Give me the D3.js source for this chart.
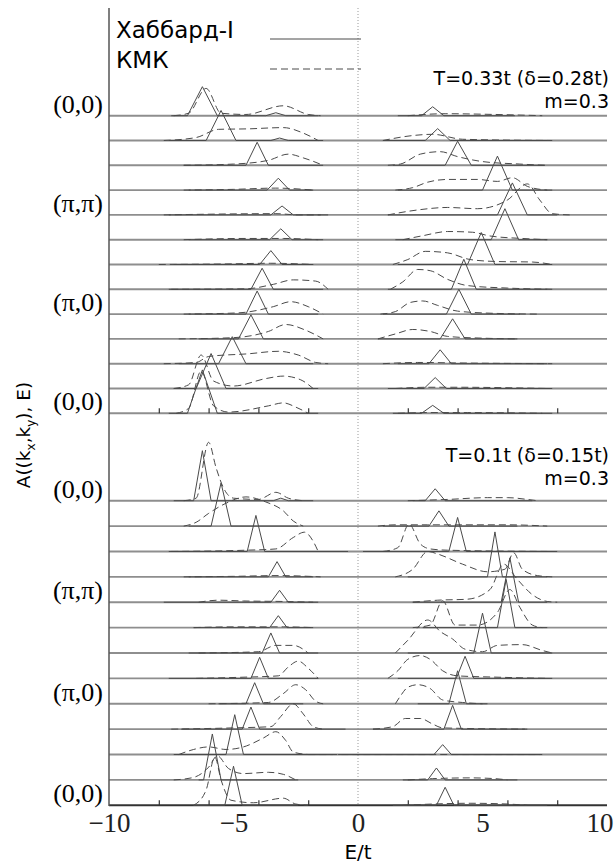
<!DOCTYPE html>
<html>
<head>
<meta charset="utf-8">
<script src="https://cdn.jsdelivr.net/npm/d3@7"></script>
<style>
  body { margin: 0; background: #fff; }
</style>
</head>
<body>
<div id="chart"></div>
<script>
// ---- data ----
const xTicksMajor = [-10, -5, 0, 5, 10]
const xTicksMinor = [-8, -6, -4, -2, 2, 4, 6, 8]
const kLabels = ["(0,0)", "(π,π)", "(π,0)", "(0,0)"]
const kLabelRows = [0, 4, 8, 12]
const legendNames = ["Хаббард-I", "КМК"]
const titleUpper = ["T=0.33t (δ=0.28t)", "m=0.3"]
const titleLower = ["T=0.1t (δ=0.15t)", "m=0.3"]

// each row: [lower band points, upper band points], points are [E/t, A] (A in row spacings)
const hubUpper = [
  [[[-7.5,0],[-6.85,0],[-6.25,1.17],[-5.65,0],[-3.7,0],[-3.3,0.12],[-2.9,0],[-1.6,0]], [[1.6,0],[2.55,0],[3.0,0.36],[3.45,0],[6.3,0]]],
  [[[-7.6,0],[-6.1,0],[-5.5,1.21],[-4.9,0],[-3.5,0],[-3.15,0.1],[-2.8,0],[-1.4,0]], [[1.0,0],[2.7,0],[3.2,0.48],[3.7,0],[7.6,0]]],
  [[[-7.0,0],[-4.5,0],[-4.05,0.93],[-3.6,0],[-1.4,0]], [[1.4,0],[3.5,0],[4.0,0.97],[4.55,0],[7.5,0]]],
  [[[-6.8,0],[-3.65,0],[-3.2,0.48],[-2.75,0],[-1.8,0]], [[1.6,0],[5.0,0],[5.6,1.37],[6.2,0],[7.8,0]]],
  [[[-7.6,0],[-3.5,0],[-3.05,0.36],[-2.6,0],[-1.2,0]], [[1.2,0],[5.6,0],[6.2,1.29],[6.8,0],[8.0,0]]],
  [[[-6.8,0],[-3.55,0],[-3.1,0.44],[-2.65,0],[-1.4,0]], [[1.5,0],[5.35,0],[5.9,1.25],[6.45,0],[7.6,0]]],
  [[[-7.4,0],[-3.95,0],[-3.5,0.56],[-3.05,0],[-1.8,0]], [[1.6,0],[4.4,0],[4.95,1.29],[5.5,0],[7.8,0]]],
  [[[-7.6,0],[-4.3,0],[-3.85,0.85],[-3.4,0],[-1.4,0]], [[1.2,0],[3.75,0],[4.25,1.21],[4.75,0],[7.6,0]]],
  [[[-6.8,0],[-4.5,0],[-4.05,0.93],[-3.6,0],[-1.6,0]], [[1.0,0],[3.55,0],[4.05,1.0],[4.55,0],[6.5,0]]],
  [[[-6.4,0],[-4.8,0],[-4.3,0.97],[-3.8,0],[-1.6,0]], [[0.8,0],[3.3,0],[3.8,0.81],[4.3,0],[6.4,0]]],
  [[[-7.2,0],[-5.6,0],[-5.05,1.09],[-4.5,0],[-1.8,0]], [[1.6,0],[2.85,0],[3.3,0.56],[3.75,0],[7.6,0]]],
  [[[-7.4,0],[-6.5,0],[-5.9,1.41],[-5.3,0],[-1.6,0]], [[1.2,0],[2.65,0],[3.1,0.44],[3.55,0],[7.8,0]]],
  [[[-7.6,0],[-6.85,0],[-6.25,1.75],[-5.65,0],[-1.6,0]], [[1.4,0],[2.55,0],[3.0,0.32],[3.45,0],[7.8,0]]]
]

const kmkUpper = [
  [[[-7.4,0],[-6.8,0.1],[-6.1,1.1],[-5.5,0.1],[-4.5,0.05],[-3.0,0.4],[-2.0,0.05],[-1.5,0]], [[2.0,0],[3.5,0.08],[5.5,0.05],[7.4,0]]],
  [[[-7.8,0],[-6.5,0.12],[-5.6,0.45],[-4.4,0.47],[-3.0,0.52],[-2.2,0.3],[-1.6,0]], [[1.0,0],[2.2,0.2],[3.0,0.25],[4.2,0.05],[7.8,0]]],
  [[[-7.0,0],[-5.0,0.05],[-3.6,0.2],[-2.8,0.45],[-2.2,0.3],[-1.4,0]], [[1.2,0],[1.7,0.05],[2.5,0.45],[3.3,0.55],[4.0,0.35],[5.0,0.15],[6.5,0.05],[7.5,0]]],
  [[[-7.0,0],[-5.0,0.03],[-3.3,0.08],[-1.8,0]], [[1.5,0],[2.2,0.1],[2.8,0.32],[3.6,0.43],[4.8,0.43],[5.6,0.35],[6.2,0.5],[6.8,0.15],[7.6,0]]],
  [[[-7.8,0],[-3.3,0.05],[-2.4,0],[-1.5,0]], [[1.2,0],[2.4,0.2],[3.6,0.3],[4.8,0.25],[6.0,0.6],[6.8,1.25],[7.3,0.6],[7.8,0.05],[8.5,0]]],
  [[[-7.0,0],[-4.5,0.05],[-3.0,0.05],[-1.6,0]], [[1.8,0],[2.6,0.16],[3.6,0.33],[4.6,0.3],[5.3,0.15],[6.6,0.05],[7.6,0]]],
  [[[-8.0,0],[-5.5,0.02],[-3.5,0.05],[-1.8,0]], [[1.4,0],[2.0,0.2],[2.7,0.53],[3.6,0.47],[4.5,0.2],[5.6,0.12],[7.0,0.1],[7.8,0]]],
  [[[-7.5,0],[-4.5,0.02],[-3.4,0.2],[-2.6,0.38],[-1.7,0.33],[-1.2,0]], [[1.3,0],[1.8,0.3],[2.4,0.8],[2.9,0.75],[3.6,0.4],[4.4,0.15],[6.0,0.05],[7.8,0]]],
  [[[-7.0,0],[-4.8,0.05],[-3.4,0.3],[-2.7,0.5],[-2.0,0.3],[-1.4,0]], [[0.9,0],[1.5,0.1],[2.1,0.47],[2.6,0.53],[3.2,0.35],[4.0,0.12],[5.5,0.03],[7.2,0]]],
  [[[-7.2,0],[-5.0,0.05],[-3.6,0.3],[-2.9,0.58],[-2.1,0.35],[-1.4,0]], [[0.8,0],[1.5,0.2],[2.2,0.38],[2.9,0.3],[3.6,0.1],[5.0,0.03],[6.4,0]]],
  [[[-7.8,0],[-6.5,0.05],[-6.0,0.29],[-4.4,0.4],[-3.2,0.5],[-2.4,0.35],[-1.7,0.05],[-1.2,0]], [[1.0,0],[2.4,0.05],[4.0,0.03],[7.8,0]]],
  [[[-7.4,0],[-6.8,0.15],[-6.3,1.35],[-5.8,0.3],[-5.0,0.1],[-3.7,0.4],[-3.0,0.5],[-2.3,0.35],[-1.8,0]], [[1.5,0],[2.8,0.05],[4.0,0.05],[7.6,0]]],
  [[[-7.3,0],[-6.8,0.2],[-6.3,1.7],[-5.8,0.3],[-5.2,0.05],[-3.6,0.3],[-3.0,0.42],[-2.5,0.25],[-2.0,0]], [[1.6,0],[2.8,0.03],[4.4,0.03],[7.4,0]]]
]

const hubLower = [
  [[[-7.4,0],[-6.6,0],[-6.25,1.97],[-5.9,0],[-3.4,0],[-3.1,0.1],[-2.8,0],[-1.8,0]], [[2.2,0],[2.7,0],[3.1,0.47],[3.5,0],[7.0,0]]],
  [[[-6.8,0],[-5.9,0],[-5.5,1.7],[-5.1,0],[-2.4,0]], [[1.0,0],[2.85,0],[3.25,0.6],[3.65,0],[6.4,0]]],
  [[[-7.6,0],[-4.45,0],[-4.1,1.42],[-3.75,0],[-0.4,0]], [[0.2,0],[3.65,0],[4.0,1.34],[4.35,0],[8.0,0]]],
  [[[-6.8,0],[-3.6,0],[-3.25,0.6],[-2.9,0],[-1.8,0]], [[2.0,0],[5.2,0],[5.5,1.77],[5.8,0],[7.6,0]]],
  [[[-7.8,0],[-3.5,0],[-3.15,0.47],[-2.8,0],[-1.6,0]], [[2.2,0],[5.75,0],[6.1,1.75],[6.45,0],[7.6,0]]],
  [[[-6.6,0],[-3.55,0],[-3.2,0.47],[-2.85,0],[-1.8,0]], [[2.6,0],[5.6,0],[5.95,1.9],[6.3,0],[7.6,0]]],
  [[[-6.8,0],[-3.85,0],[-3.5,0.79],[-3.15,0],[-1.6,0]], [[2.0,0],[4.65,0],[5.0,1.57],[5.35,0],[7.8,0]]],
  [[[-7.6,0],[-4.3,0],[-3.95,0.83],[-3.6,0],[-1.6,0]], [[1.6,0],[3.95,0],[4.3,0.87],[4.65,0],[7.8,0]]],
  [[[-5.6,0],[-4.5,0],[-4.15,0.83],[-3.8,0],[-2.2,0]], [[2.4,0],[3.65,0],[4.0,1.3],[4.35,0],[5.2,0]]],
  [[[-7.1,0],[-4.65,0],[-4.3,0.87],[-3.95,0],[-0.5,0]], [[0.6,0],[3.45,0],[3.8,0.94],[4.15,0],[6.7,0]]],
  [[[-7.4,0],[-5.3,0],[-4.95,1.57],[-4.6,0],[-1.0,0]], [[-0.8,0],[3.05,0],[3.4,0.39],[3.75,0],[7.4,0]]],
  [[[-6.4,0],[-6.2,0],[-5.85,1.81],[-5.5,0],[-2.4,0]], [[1.8,0],[2.8,0],[3.15,0.47],[3.5,0],[6.4,0]]],
  [[[-6.6,0],[-5.35,0],[-5.0,1.54],[-4.65,0],[-2.4,0]], [[1.4,0],[3.15,0],[3.5,0.71],[3.85,0],[7.6,0]]]
]

const kmkLower = [
  [[[-7.0,0],[-6.5,0.1],[-6.0,2.3],[-5.7,1.3],[-5.4,0.5],[-5.0,0.1],[-4.0,0.05],[-3.3,0.33],[-2.8,0.1],[-2.2,0]], [[2.0,0],[3.6,0.05],[5.2,0.12],[6.0,0.12],[6.8,0.05],[7.2,0]]],
  [[[-7.0,0],[-6.5,0.15],[-6.0,0.5],[-5.3,0.9],[-4.5,1.15],[-3.7,0.95],[-3.0,0.6],[-2.6,0.2],[-2.2,0]], [[0.8,0],[1.5,0.05],[2.8,0.05],[6.0,0.05],[7.6,0]]],
  [[[-7.5,0],[-4.5,0.05],[-3.3,0.1],[-2.6,0.55],[-2.15,0.76],[-1.8,0.4],[-1.6,0]], [[1.0,0],[1.6,0.15],[2.05,1.08],[2.5,0.3],[2.9,0.1],[3.6,0.05],[7.6,0]]],
  [[[-7.0,0],[-5.0,0.02],[-3.2,0.05],[-1.5,0]], [[1.5,0],[2.2,0.3],[2.8,1.0],[3.2,0.9],[4.2,0.5],[5.2,0.2],[5.9,0.3],[6.25,0.95],[6.6,0.3],[7.2,0.05],[7.8,0]]],
  [[[-6.4,0],[-5.6,0.08],[-4.6,0.05],[-3.0,0.03],[-1.8,0]], [[2.2,0],[3.2,0.08],[4.4,0.12],[5.3,0.5],[5.85,1.5],[6.4,0.9],[7.0,0.3],[7.6,0.03],[8.0,0]]],
  [[[-6.6,0],[-5.0,0.03],[-3.0,0.03],[-1.8,0]], [[2.2,0],[2.9,0.1],[3.4,1.06],[3.9,0.1],[4.8,0.1],[5.6,0.6],[6.1,1.5],[6.5,0.8],[7.0,0.1],[7.4,0]]],
  [[[-6.4,0],[-4.0,0.05],[-3.3,0.3],[-2.6,0.3],[-2.0,0]], [[1.5,0],[2.0,0.5],[2.8,1.3],[3.3,0.85],[3.8,0.55],[4.3,0.15],[5.0,0.05],[5.6,0.3],[6.6,0.33],[7.4,0.1],[7.8,0]]],
  [[[-6.5,0],[-4.5,0.05],[-3.2,0.1],[-2.8,0.45],[-2.4,0.68],[-2.0,0.4],[-1.6,0]], [[1.2,0],[1.6,0.3],[2.0,0.75],[2.5,0.9],[2.9,0.75],[3.4,0.3],[4.0,0.1],[5.5,0.05],[7.6,0]]],
  [[[-6.0,0],[-3.6,0.05],[-3.0,0.4],[-2.5,0.75],[-2.1,0.55],[-1.7,0.1],[-1.4,0]], [[1.5,0],[1.7,0.3],[2.0,0.65],[2.4,0.75],[2.9,0.6],[3.4,0.15],[4.2,0.05],[5.0,0]]],
  [[[-7.5,0],[-5.0,0.05],[-3.5,0.1],[-3.1,0.5],[-2.6,1.0],[-2.2,0.6],[-1.8,0.1],[-1.4,0]], [[0.6,0],[1.4,0.1],[1.9,0.42],[2.5,0.42],[3.0,0.2],[3.4,0.05],[6.8,0]]],
  [[[-7.2,0],[-6.6,0.2],[-6.0,0.3],[-5.3,0.2],[-4.6,0.3],[-3.8,0.65],[-3.3,0.9],[-2.9,0.55],[-2.6,0.1],[-2.0,0]], [[-2.0,0],[7.3,0]]],
  [[[-7.4,0],[-6.6,0.1],[-6.0,0.5],[-5.65,0.95],[-5.2,0.45],[-4.6,0.25],[-3.6,0.3],[-3.0,0.22],[-2.5,0]], [[2.0,0],[3.0,0.05],[4.5,0.08],[5.5,0.05],[6.0,0]]],
  [[[-6.6,0],[-6.1,0.6],[-5.75,1.9],[-5.5,1.0],[-5.1,0.2],[-4.2,0.1],[-3.0,0.28],[-2.5,0.05],[-2.0,0]], [[1.8,0],[3.0,0.05],[4.5,0.08],[6.0,0.05],[6.8,0]]]
]

// ---- drawing ----
const width = 615, height = 866
const sans = "'DejaVu Sans', Verdana, sans-serif"
const serif = "'Liberation Serif', 'Times New Roman', serif"
const colors = {
    baseline: '#8e8e8e',
    axis: '#555',
    curve: '#4a4a4a',
    zero: '#9a9a9a'
}

const svg = d3.select('#chart').append('svg')
    .attr('width', width)
    .attr('height', height)

const x = d3.scaleLinear().domain([-10, 10]).range([109, 607])

const panels = [
    {hub: hubUpper, kmk: kmkUpper, title: titleUpper, titleY: [85, 108],
     y: d3.scaleLinear().domain([0, 12]).range([115.7, 413.3])},
    {hub: hubLower, kmk: kmkLower, title: titleLower, titleY: [462, 485],
     y: d3.scaleLinear().domain([0, 12]).range([500.7, 805.3])}
]

// zero energy dotted line
svg.append('line')
    .attr('x1', x(0)).attr('x2', x(0))
    .attr('y1', 8).attr('y2', 805)
    .attr('stroke', colors.zero)
    .attr('stroke-width', 1)
    .attr('stroke-dasharray', '1,2')

panels.forEach((p, pi) => {
    const g = svg.append('g')
    const rows = d3.range(p.hub.length)

    // baselines
    g.selectAll('line.base').data(rows).join('line')
        .attr('class', 'base')
        .attr('x1', x(-10)).attr('x2', x(10))
        .attr('y1', r => p.y(r)).attr('y2', r => p.y(r))
        .attr('stroke', (r) => (pi === 1 && r === 12) ? '#333' : colors.baseline)
        .attr('stroke-width', 1.9)

    // minor ticks on the bottom row
    g.append('g')
        .attr('transform', `translate(0,${p.y(12)})`)
        .call(d3.axisBottom(x).tickValues(xTicksMinor).tickSize(-5).tickFormat(''))
        .call(a => a.select('.domain').remove())
        .call(a => a.selectAll('line').attr('stroke', '#333').attr('stroke-width', 1.2))

    rows.forEach(r => {
        const line = d3.line().x(d => x(d[0])).y(d => p.y(r - d[1]))
        p.hub[r].forEach(seg => {
            g.append('path')
                .attr('d', line.curve(d3.curveLinear)(seg))
                .attr('fill', 'none')
                .attr('stroke', colors.curve)
                .attr('stroke-width', 1)
        })
        p.kmk[r].forEach(seg => {
            g.append('path')
                .attr('d', line.curve(d3.curveMonotoneX)(seg))
                .attr('fill', 'none')
                .attr('stroke', colors.curve)
                .attr('stroke-width', 1)
                .attr('stroke-dasharray', '7,4')
        })
    })

    // k-point labels
    g.selectAll('text.k').data(kLabels).join('text')
        .attr('class', 'k')
        .attr('x', 103)
        .attr('y', (d, i) => p.y(kLabelRows[i]) - 3)
        .attr('text-anchor', 'end')
        .style('font-family', serif)
        .style('font-size', '26px')
        .text(d => d)

    // panel annotation
    g.selectAll('text.t').data(p.title).join('text')
        .attr('class', 't')
        .attr('x', 609)
        .attr('y', (d, i) => p.titleY[i])
        .attr('text-anchor', 'end')
        .style('font-family', sans)
        .style('font-size', '19px')
        .text(d => d)
})

// left axis
svg.append('line')
    .attr('x1', x(-10)).attr('x2', x(-10))
    .attr('y1', 8).attr('y2', 806)
    .attr('stroke', colors.axis)
    .attr('stroke-width', 1.5)

// tick labels
svg.append('g')
    .attr('transform', `translate(0,${panels[1].y(12)})`)
    .call(d3.axisBottom(x).tickValues(xTicksMajor).tickSize(0).tickPadding(8)
        .tickFormat(d => d < 0 ? '\u2212' + Math.abs(d) : d))
    .call(a => a.select('.domain').remove())
    .call(a => a.selectAll('text')
        .attr('fill', '#222')
        .attr('text-anchor', d => d === 10 ? 'end' : 'middle')
        .attr('dx', d => d === 10 ? 6 : 0)
        .style('font-family', serif)
        .style('font-size', '27px'))

svg.append('text')
    .attr('x', x(0)).attr('y', 859)
    .attr('text-anchor', 'middle')
    .style('font-family', sans)
    .style('font-size', '20px')
    .text('E/t')

// y label
const yl = svg.append('text')
    .attr('transform', 'translate(30,435) rotate(-90)')
    .attr('text-anchor', 'middle')
    .style('font-family', sans)
    .style('font-size', '18.5px')
yl.append('tspan').text('A((k')
yl.append('tspan').attr('dy', 5).style('font-size', '12px').text('x')
yl.append('tspan').attr('dy', -5).text(',k')
yl.append('tspan').attr('dy', 5).style('font-size', '12px').text('y')
yl.append('tspan').attr('dy', -5).text('), E)')

// legend
const legendY = [38, 68]
legendNames.forEach((name, i) => {
    svg.append('text')
        .attr('x', 116).attr('y', legendY[i])
        .style('font-family', sans)
        .style('font-size', '23px')
        .text(name)
    svg.append('line')
        .attr('x1', 270).attr('x2', 361)
        .attr('y1', legendY[i] + 1).attr('y2', legendY[i] + 1)
        .attr('stroke', colors.curve)
        .attr('stroke-width', 1)
        .attr('stroke-dasharray', i === 1 ? '7,4' : null)
})
</script>
</body>
</html>
